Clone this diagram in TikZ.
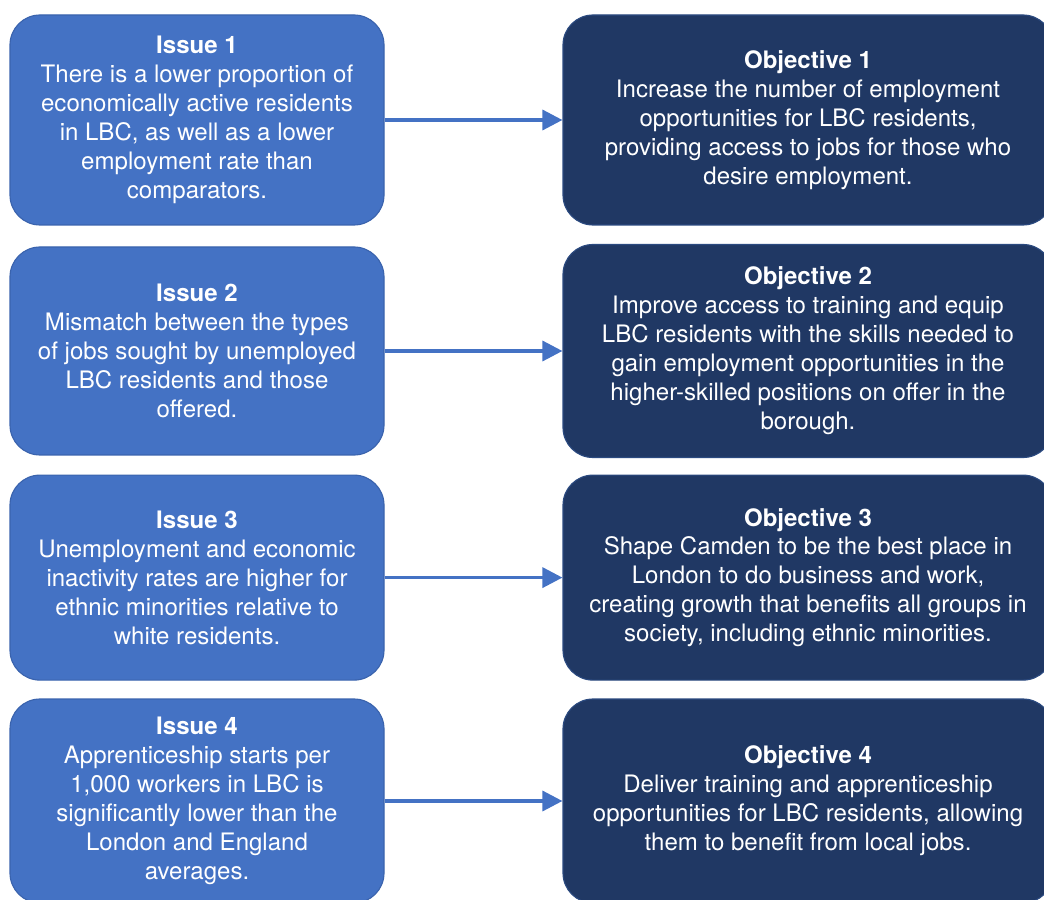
\documentclass[tikz,border=0pt]{standalone}
\usepackage{fontspec}
\setmainfont{TeX Gyre Heros}
\usetikzlibrary{arrows.meta}
\definecolor{issueblue}{HTML}{4472C4}
\definecolor{issueedge}{HTML}{3A63AD}
\definecolor{objnavy}{HTML}{203864}
\definecolor{objedge}{HTML}{2B4A80}

\begin{document}
\begin{tikzpicture}[
	issuebox/.style = {rectangle, rounded corners=0.75cm, fill=issueblue, draw=issueedge,
		line width=0.8pt, text=white, align=center, minimum width=9.35cm,
		font=\fontsize{17.1}{20.6}\selectfont},
	objbox/.style = {rectangle, rounded corners=0.75cm, fill=objnavy, draw=objedge,
		line width=0.8pt, text=white, align=center, minimum width=12.25cm,
		font=\fontsize{17.1}{20.6}\selectfont},
	link/.style = {draw=issueblue, line width=2.4pt, -{Triangle[length=0.5cm,width=0.5cm]}}]
				\useasboundingbox (0,0) rectangle (26.1,-22.5);
				\clip (0,0) rectangle (26.1,-22.5);
				% issues
				\node[issuebox, minimum height = 5.25cm] (i1) at(4.925,-3.0){\textbf{Issue 1}\\There is a lower proportion of\\economically active residents\\in LBC, as well as a lower\\employment rate than\\comparators.};
				\node[issuebox, minimum height = 5.2cm] (i2) at(4.925,-8.775){\textbf{Issue 2}\\Mismatch between the types\\of jobs sought by unemployed\\LBC residents and those\\offered.};
				\node[issuebox, minimum height = 5.125cm] (i3) at(4.925,-14.44){\textbf{Issue 3}\\Unemployment and economic\\inactivity rates are higher for\\ethnic minorities relative to\\white residents.};
				\node[issuebox, minimum height = 5.1cm] (i4) at(4.925,-20.025){\textbf{Issue 4}\\Apprenticeship starts per\\1,000 workers in LBC is\\significantly lower than the\\London and England\\averages.};
				% objectives
				\node[objbox, minimum height = 5.25cm] (o1) at(20.2,-3.0){\textbf{Objective 1}\\Increase the number of employment\\opportunities for LBC residents,\\providing access to jobs for those who\\desire employment.};
				\node[objbox, minimum height = 5.325cm] (o2) at(20.2,-8.775){\textbf{Objective 2}\\Improve access to training and equip\\LBC residents with the skills needed to\\gain employment opportunities in the\\higher-skilled positions on offer in the\\borough.};
				\node[objbox, minimum height = 5.125cm] (o3) at(20.2,-14.44){\textbf{Objective 3}\\Shape Camden to be the best place in\\London to do business and work,\\creating growth that benefits all groups in\\society, including ethnic minorities.};
				\node[objbox, minimum height = 5.1cm] (o4) at(20.2,-20.025){\textbf{Objective 4}\\Deliver training and apprenticeship\\opportunities for LBC residents, allowing\\them to benefit from local jobs.};
				\draw[link] (i1) -- (o1);
				\draw[link] (i2) -- (o2);
				\draw[link] (i3) -- (o3);
				\draw[link] (i4) -- (o4);
			\end{tikzpicture}
\end{document}
